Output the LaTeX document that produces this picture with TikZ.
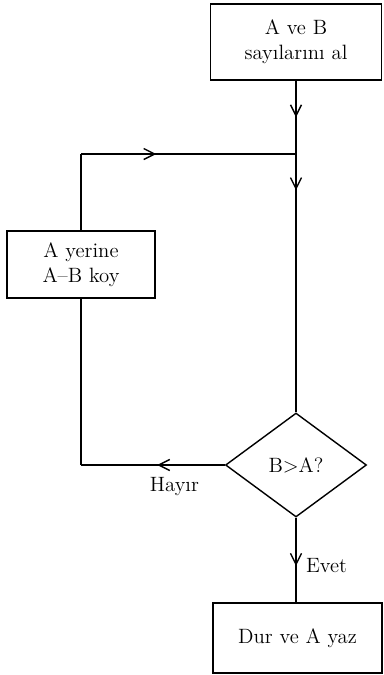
\documentclass[tikz,border=0pt]{standalone}
\usepackage{tikz}
\usetikzlibrary{shapes.geometric, arrows.meta, positioning, calc, decorations.markings}

\begin{document}
\begin{tikzpicture}[
    font=\fontsize{11.8}{14}\selectfont,
    flowbox/.style={draw, line width=0.8pt, align=center, inner sep=0pt},
    flowline/.style={line width=0.8pt},
    midarrow/.style={postaction={decorate, decoration={markings,
      mark=at position #1 with {\arrow{Straight Barb[length=2.2mm, width=2.2mm]}}}}}
  ]
  \useasboundingbox (0,0) rectangle (7.68,-13.5);

  % Boxes
  \node[flowbox, minimum width=3.42cm, minimum height=1.52cm] (input) at (5.92,-0.84) {A ve B\\sayılarını al};
  \node[flowbox, minimum width=2.96cm, minimum height=1.34cm] (update) at (1.62,-5.29) {A yerine\\A--B koy};
  \node[flowbox, shape=diamond, minimum width=2.82cm, minimum height=2.08cm] (check) at (5.92,-9.3) {B>A?};
  \node[flowbox, minimum width=3.38cm, minimum height=1.4cm] (output) at (5.95,-12.76) {Dur ve A yaz};

  % Junction where the loop comes back
  \coordinate (join) at (input.south |- 0,-3.08);
  \coordinate (turn) at (update.north |- join);

  % Connectors
  \draw[flowline, midarrow=0.5] (input.south) -- (join);
  \draw[flowline, midarrow=0.14] (join) -- (check.north);
  \draw[flowline] (update.north) -- (turn);
  \draw[flowline, midarrow=0.35] (turn) -- (join);
  \draw[flowline, midarrow=0.47] (check.west) -- node[pos=0.35, below=3pt] {Hayır} (check.west -| update.south) coordinate (back);
  \draw[flowline] (back) -- (update.south);
  \draw[flowline, midarrow=0.57] (check.south) -- node[pos=0.57, right=2pt] {Evet} (check.south |- output.north);
\end{tikzpicture}
\end{document}
